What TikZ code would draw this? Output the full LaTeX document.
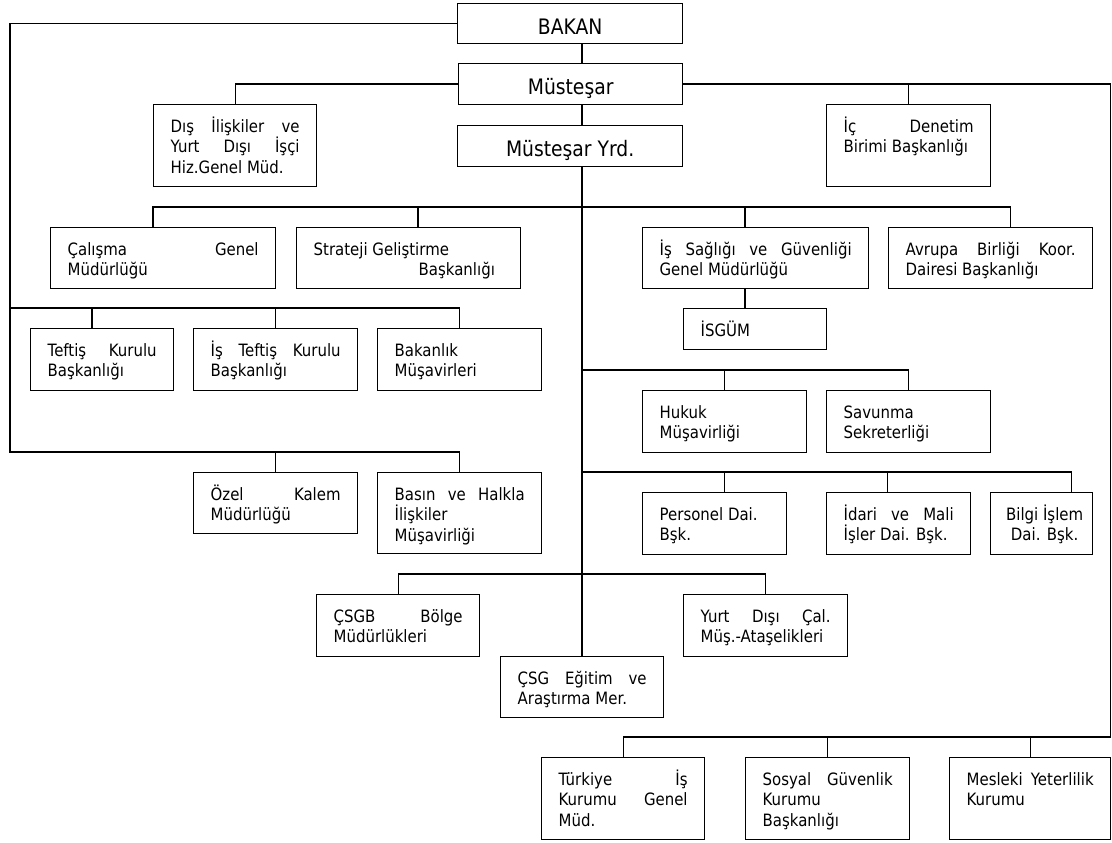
\documentclass[tikz,border=0pt]{standalone}
\usepackage{fontspec}
\setmainfont{DejaVu Sans}[FakeStretch=0.88]
\newcommand\bodyfnt{\fontsize{17}{20.5}\selectfont}
\newcommand\bigfnt{\fontsize{21.3}{25}\selectfont}
\newcommand\jl[1]{\hbox to\hsize{\rule{0pt}{16pt}#1}}
\newcommand\bt[3]{\parbox[t][#2pt][t]{\dimexpr#1pt-34pt\relax}{\bodyfnt\vspace*{11.5pt}#3}}
\begin{document}
\begin{tikzpicture}[x=1pt,y=-1pt,line width=1.3pt,
  unit/.style={draw,line width=1.3pt,inner xsep=17pt,inner ysep=0pt,anchor=north west,font=\bodyfnt},
  head/.style={draw,line width=1.3pt,inner sep=0pt,anchor=north west,font=\bigfnt,text height=21pt,text depth=0pt},
  thickmark/.style={line width=2.6pt}]
\useasboundingbox (0,0) rectangle (1112,843);
% top chain
\node[head,minimum width=225pt,minimum height=40pt] (bakan) at (457,3) {BAKAN};
\node[head,minimum width=224pt,minimum height=41pt] (mus) at (458,63) {Müsteşar};
\node[head,minimum width=225pt,minimum height=41pt] (yrd) at (457,125) {Müsteşar Yrd.};
% boxes
\node[unit] (dis) at (153,104) {\bt{163}{82}{\jl{Dış\hfill İlişkiler\hfill ve}\jl{Yurt\hfill Dışı\hfill İşçi}\jl{Hiz.Genel Müd.\hfill}}};
\node[unit] (icd) at (826,104) {\bt{164}{82}{\jl{İç\hfill Denetim}\jl{Birimi Başkanlığı\hfill}}};
\node[unit] (cal) at (50,227) {\bt{225}{61}{\jl{Çalışma\hfill Genel}\jl{Müdürlüğü\hfill}}};
\node[unit] (str) at (296,227) {\bt{224}{61}{\jl{Strateji Geliştirme\hfill}\jl{\hspace*{105pt}Başkanlığı\hfill}}};
\node[unit] (iss) at (642,227) {\bt{226}{61}{\jl{İş\hfill Sağlığı\hfill ve\hfill Güvenliği}\jl{Genel Müdürlüğü\hfill}}};
\node[unit] (avr) at (888,227) {\bt{204}{61}{\jl{Avrupa\hfill Birliği\hfill Koor.}\jl{Dairesi Başkanlığı\hfill}}};
\node[unit] (tef) at (30,328) {\bt{143}{62}{\jl{Teftiş\hfill Kurulu}\jl{Başkanlığı\hfill}}};
\node[unit] (ist) at (193,328) {\bt{164}{62}{\jl{İş\hfill Teftiş\hfill Kurulu}\jl{Başkanlığı\hfill}}};
\node[unit] (bkm) at (377,328) {\bt{164}{62}{\jl{Bakanlık\hfill}\jl{Müşavirleri\hfill}}};
\node[unit] (isg) at (683,308) {\bt{143}{41}{\jl{İSGÜM\hfill}}};
\node[unit] (huk) at (642,390) {\bt{164}{62}{\jl{Hukuk\hfill}\jl{Müşavirliği\hfill}}};
\node[unit] (sav) at (826,390) {\bt{164}{62}{\jl{Savunma\hfill}\jl{Sekreterliği\hfill}}};
\node[unit] (oze) at (193,472) {\bt{164}{61}{\jl{Özel\hfill Kalem}\jl{Müdürlüğü\hfill}}};
\node[unit] (bas) at (377,472) {\bt{164}{81}{\jl{Basın\hfill ve\hfill Halkla}\jl{İlişkiler\hfill}\jl{Müşavirliği\hfill}}};
\node[unit] (per) at (642,492) {\bt{144}{62}{\jl{Personel Dai.\hfill}\jl{Bşk.\hfill}}};
\node[unit] (ida) at (826,492) {\bt{144}{62}{\jl{İdari\hfill ve\hfill Mali}\jl{İşler Dai. Bşk.\hfill}}};
\node[unit] (bil) at (990,492) {\bt{102}{62}{\jl{\hss\hspace*{6pt}Bilgi İşlem\hss}\jl{\hss\hspace*{6pt}Dai. Bşk.\hss}}};
\node[unit] (csg) at (316,594) {\bt{163}{62}{\jl{ÇSGB\hfill Bölge}\jl{Müdürlükleri\hfill}}};
\node[unit] (yur) at (683,594) {\bt{164}{62}{\jl{Yurt\hfill Dışı\hfill Çal.}\jl{Müş.-Ataşelikleri\hfill}}};
\node[unit] (egt) at (500,656) {\bt{163}{61}{\jl{ÇSG\hfill Eğitim\hfill ve}\jl{Araştırma Mer.\hfill}}};
\node[unit] (tur) at (541,757) {\bt{163}{82}{\jl{Türkiye\hfill İş}\jl{Kurumu\hfill Genel}\jl{Müd.\hfill}}};
\node[unit] (sos) at (745,757) {\bt{164}{82}{\jl{Sosyal\hfill Güvenlik}\jl{Kurumu\hfill}\jl{Başkanlığı\hfill}}};
\node[unit] (mes) at (949,757) {\bt{161}{82}{\jl{Mesleki\hfill Yeterlilik}\jl{Kurumu\hfill}}};
% helper coordinates
\coordinate (tx) at (582,0);
\coordinate (L1) at (10,308);
\coordinate (L2) at (10,452);
\coordinate (d1) at (92,308);
\coordinate (RB) at (1110.5,737);
\coordinate (c1) at (153,207);
\coordinate (c2) at (418,207);
\coordinate (c3) at (745,207);
\coordinate (c4) at (1010.5,207);
\coordinate (h1) at (724.5,370);
\coordinate (p1) at (724.5,472);
\coordinate (p2) at (887.6,472);
\coordinate (p3) at (1071.5,472);
\coordinate (q) at (0,574);
\coordinate (m1) at (704,737);
\coordinate (m2) at (725,737);
% trunk
\draw (bakan.south -| tx) -- (mus.north -| tx);
\draw (mus.south -| tx) -- (yrd.north -| tx);
\draw (yrd.south -| tx) -- (egt.north -| tx);
% left side from BAKAN
\draw (bakan.west) -| (L2) -| (bas.north);
\draw (L2 -| oze.north) -- (oze.north);
\draw (L1) -| (bkm.north);
\draw (d1) -- (d1 |- tef.north);
\draw (L1 -| ist.north) -- (ist.north);
% Müsteşar sides
\draw (mus.west) -| (dis.north);
\draw (mus.east) -- (mus.east -| RB) -- (RB) -| (tur.north);
\draw (mus.east -| icd.north) -- (icd.north);
\draw (RB -| sos.north) -- (sos.north);
\draw (RB -| mes.north) -- (mes.north);
\draw[thickmark] (m1) -- (m2);
% row at 207
\draw (c1 |- cal.north) -- (c1) -- (c4) -- (c4 |- avr.north);
\draw (c2) -- (c2 |- str.north);
\draw (c3) -- (c3 |- iss.north);
\draw (c3 |- iss.south) -- (c3 |- isg.north);
% row at 370
\draw (h1 -| tx) -| (sav.north);
\draw (h1) -- (h1 |- huk.north);
% row at 472
\draw (p1 -| tx) -- (p3) -- (p3 |- bil.north);
\draw (p1) -- (p1 |- per.north);
\draw (p2) -- (p2 |- ida.north);
% row at 574
\draw (csg.north) -- (csg.north |- q) -| (yur.north);
\end{tikzpicture}
\end{document}
